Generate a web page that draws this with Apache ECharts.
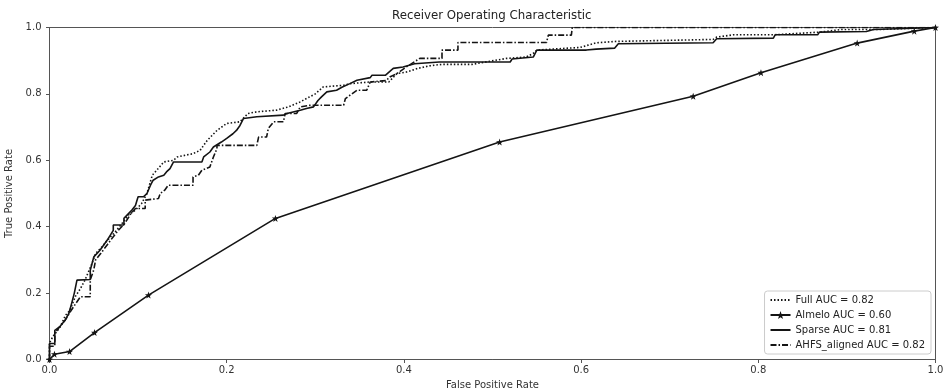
<!DOCTYPE html>
<html>
<head>
<meta charset="utf-8">
<script src="https://cdn.jsdelivr.net/npm/echarts@6/dist/echarts.min.js"></script>
<style>html,body{margin:0;padding:0;background:#fff}#c{width:943px;height:389px}</style>
</head>
<body>
<div id="c"></div>
<script>
const xTicks = [0, 0.2, 0.4, 0.6, 0.8, 1.0];
const yTicks = [0, 0.2, 0.4, 0.6, 0.8, 1.0];
const seriesNames = ['Full AUC = 0.82', 'Almelo AUC = 0.60', 'Sparse AUC = 0.81', 'AHFS_aligned AUC = 0.82'];

const fullFpr = [0,0,0.004,0.0064,0.012,0.018,0.023,0.029,0.035,0.04,0.048,0.052,0.059,0.067,0.074,0.082,0.089,0.097,0.104,0.11,0.116,0.121,0.129,0.14,0.144,0.162,0.17,0.178,0.189,0.2,0.215,0.224,0.234,0.256,0.27,0.283,0.29,0.3,0.309,0.332,0.34,0.362,0.383,0.392,0.403,0.416,0.43,0.443,0.477,0.516,0.538,0.546,0.55,0.599,0.617,0.638,0.64,0.749,0.753,0.772,0.817,0.869,0.894,0.937,1];
const fullTpr = [0,0.05,0.07,0.078,0.098,0.133,0.148,0.189,0.214,0.239,0.289,0.319,0.339,0.364,0.384,0.41,0.435,0.45,0.47,0.5,0.555,0.57,0.595,0.6,0.61,0.62,0.63,0.66,0.69,0.711,0.716,0.741,0.746,0.751,0.761,0.776,0.786,0.8,0.821,0.826,0.831,0.836,0.836,0.861,0.866,0.877,0.885,0.889,0.889,0.907,0.911,0.922,0.932,0.94,0.954,0.958,0.964,0.964,0.971,0.978,0.978,0.986,0.994,0.994,1];

const almeloFpr = [0,0.0056,0.0226,0.0508,0.1117,0.255,0.508,0.7265,0.803,0.9116,0.976,1];
const almeloTpr = [0,0.016,0.024,0.081,0.194,0.425,0.655,0.793,0.864,0.953,0.989,1];

const sparseFpr = [0,0,0.006,0.006,0.012,0.018,0.022,0.025,0.028,0.031,0.046,0.046,0.05,0.057,0.065,0.072,0.072,0.084,0.084,0.093,0.097,0.1,0.106,0.11,0.114,0.117,0.123,0.129,0.132,0.136,0.14,0.172,0.174,0.181,0.185,0.194,0.2,0.207,0.211,0.215,0.219,0.234,0.236,0.264,0.268,0.283,0.29,0.298,0.303,0.307,0.313,0.324,0.33,0.339,0.347,0.362,0.364,0.379,0.388,0.399,0.412,0.44,0.52,0.522,0.546,0.55,0.606,0.617,0.638,0.642,0.749,0.753,0.817,0.819,0.867,0.869,0.922,0.93,1];
const sparseTpr = [0,0.048,0.048,0.088,0.1,0.12,0.14,0.169,0.2,0.239,0.241,0.269,0.309,0.329,0.359,0.389,0.405,0.405,0.425,0.45,0.464,0.49,0.49,0.5,0.525,0.54,0.55,0.555,0.565,0.575,0.595,0.595,0.61,0.625,0.64,0.655,0.666,0.68,0.69,0.705,0.726,0.731,0.736,0.736,0.741,0.751,0.756,0.761,0.78,0.791,0.806,0.811,0.82,0.831,0.841,0.849,0.856,0.856,0.877,0.881,0.891,0.896,0.896,0.905,0.911,0.932,0.932,0.935,0.938,0.951,0.954,0.966,0.968,0.978,0.978,0.986,0.988,0.994,1];

const ahfsFpr = [0,0,0.006,0.006,0.012,0.018,0.025,0.03,0.035,0.046,0.046,0.05,0.052,0.058,0.065,0.072,0.078,0.085,0.092,0.097,0.108,0.108,0.123,0.125,0.13,0.134,0.162,0.162,0.168,0.172,0.181,0.185,0.189,0.189,0.234,0.236,0.245,0.247,0.253,0.264,0.266,0.279,0.283,0.294,0.332,0.334,0.347,0.358,0.362,0.38,0.384,0.392,0.402,0.418,0.443,0.443,0.461,0.461,0.561,0.563,0.589,0.59,1];
const ahfsTpr = [0,0.04,0.04,0.08,0.1,0.12,0.15,0.17,0.189,0.189,0.24,0.27,0.3,0.32,0.345,0.37,0.39,0.41,0.44,0.455,0.455,0.48,0.485,0.5,0.51,0.525,0.525,0.55,0.555,0.57,0.58,0.61,0.635,0.645,0.645,0.67,0.67,0.696,0.716,0.716,0.741,0.741,0.761,0.766,0.766,0.786,0.811,0.811,0.836,0.84,0.851,0.861,0.88,0.907,0.907,0.932,0.932,0.955,0.955,0.977,0.977,1,1];

function pairs(xs, ys) { return xs.map((x, i) => [x, ys[i]]); }

const STAR = 'path://M0,-10 L2.35,-3.24 L9.51,-3.09 L3.8,1.24 L5.88,8.09 L0,4 L-5.88,8.09 L-3.8,1.24 L-9.51,-3.09 L-2.35,-3.24 Z';
const FONT = 'DejaVu Sans';
const INK = '#141414';

const chart = echarts.init(document.getElementById('c'), null, {renderer: 'canvas'});
chart.setOption({
  animation: false,
  backgroundColor: '#fff',
  title: {
    text: 'Receiver Operating Characteristic',
    left: 392, top: 10, padding: 0,
    textStyle: {fontFamily: FONT, fontSize: 11.8, fontWeight: 'normal', color: '#222'}
  },
  grid: {left: 49.5, right: 7.5, top: 27.5, bottom: 29.5, outerBoundsMode: 'none', containLabel: false,
         show: true, borderColor: '#555', borderWidth: 1, backgroundColor: 'transparent'},
  xAxis: {
    type: 'value', min: 0, max: 1, interval: 0.2,
    name: 'False Positive Rate', nameLocation: 'middle', nameGap: 17.5,
    nameTextStyle: {fontFamily: FONT, fontSize: 10, color: '#333'},
    axisLine: {show: true, lineStyle: {color: '#555', width: 1}},
    axisTick: {show: true, inside: false, length: 3.5, lineStyle: {color: '#555'}},
    axisLabel: {fontFamily: FONT, fontSize: 10, color: '#333', margin: 6, formatter: v => xTicks.includes(+v.toFixed(1)) ? v.toFixed(1) : ''},
    splitLine: {show: false}
  },
  yAxis: {
    type: 'value', min: 0, max: 1, interval: 0.2,
    name: 'True Positive Rate', nameLocation: 'middle', nameGap: 34, nameRotate: 90,
    nameTextStyle: {fontFamily: FONT, fontSize: 10, color: '#333'},
    axisLine: {show: true, lineStyle: {color: '#555', width: 1}},
    axisTick: {show: true, inside: false, length: 3.5, lineStyle: {color: '#555'}},
    axisLabel: {fontFamily: FONT, fontSize: 10, color: '#333', margin: 8, formatter: v => yTicks.includes(+v.toFixed(1)) ? v.toFixed(1) : ''},
    splitLine: {show: false}
  },
  legend: {
    orient: 'vertical', right: 12, bottom: 35,
    backgroundColor: '#fff', borderColor: '#ccc', borderWidth: 1, borderRadius: 3,
    padding: [4, 6, 4, 5], itemGap: 5, itemWidth: 20, itemHeight: 10,
    textStyle: {fontFamily: FONT, fontSize: 10, color: '#222'},
    data: [
      {name: seriesNames[0], itemStyle: {opacity: 0}},
      {name: seriesNames[1]},
      {name: seriesNames[2], itemStyle: {opacity: 0}},
      {name: seriesNames[3], itemStyle: {opacity: 0}}
    ]
  },
  series: [
    {name: seriesNames[0], type: 'line', data: pairs(fullFpr, fullTpr), symbol: 'none', clip: true,
     lineStyle: {color: INK, width: 1.6, type: [1.5, 2]}, itemStyle: {color: INK}, z: 3},
    {name: seriesNames[1], type: 'line', data: pairs(almeloFpr, almeloTpr), symbol: STAR, symbolSize: 7, clip: false,
     lineStyle: {color: INK, width: 1.6}, itemStyle: {color: INK}, z: 4},
    {name: seriesNames[2], type: 'line', data: pairs(sparseFpr, sparseTpr), symbol: 'none', clip: true,
     lineStyle: {color: INK, width: 1.6}, itemStyle: {color: INK}, z: 2},
    {name: seriesNames[3], type: 'line', data: pairs(ahfsFpr, ahfsTpr), symbol: 'none', clip: true,
     lineStyle: {color: INK, width: 1.6, type: [6, 2, 1.5, 2]}, itemStyle: {color: INK}, z: 3}
  ]
});
</script>
</body>
</html>
